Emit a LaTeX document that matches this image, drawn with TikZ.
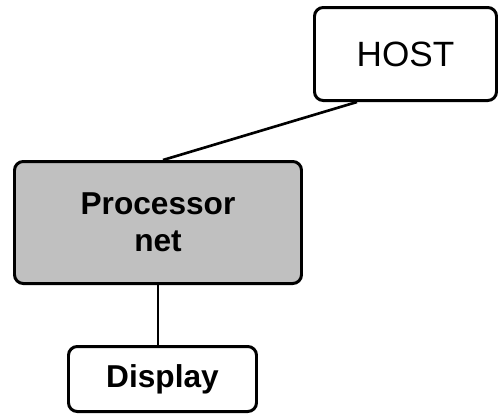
\documentclass[tikz,border=0pt]{standalone}
\usepackage{fontspec}
\setmainfont{Liberation Sans}
\definecolor{netgray}{HTML}{C0C0C0}
\tikzset{
  box/.style={draw, line width=1.7pt, rounded corners=5pt, align=center, inner sep=0pt},
}
\begin{document}
\begin{tikzpicture}
    \useasboundingbox (0,0) rectangle (9.98,-8.36);

    % Boxes
    \node[box, minimum width=3.64cm, minimum height=1.86cm, font=\fontsize{20}{24}\selectfont] (host) at (8.11,-1.08) {HOST};
    \node[box, fill=netgray, minimum width=5.74cm, minimum height=2.44cm, font=\bfseries\fontsize{18}{21}\selectfont] (proc) at (3.16,-4.45) {Processor\\net};
    \node[box, minimum width=3.76cm, minimum height=1.30cm, font=\bfseries\fontsize{18}{21}\selectfont] (disp) at (3.25,-7.58) {Display};

    % Connections
    \draw[line width=1.5pt] ([xshift=0.88cm]host.south west) -- ([xshift=0.1cm]proc.north);
    \draw[line width=1.5pt] (proc.south) -- (proc.south |- disp.north);

\end{tikzpicture}
\end{document}
